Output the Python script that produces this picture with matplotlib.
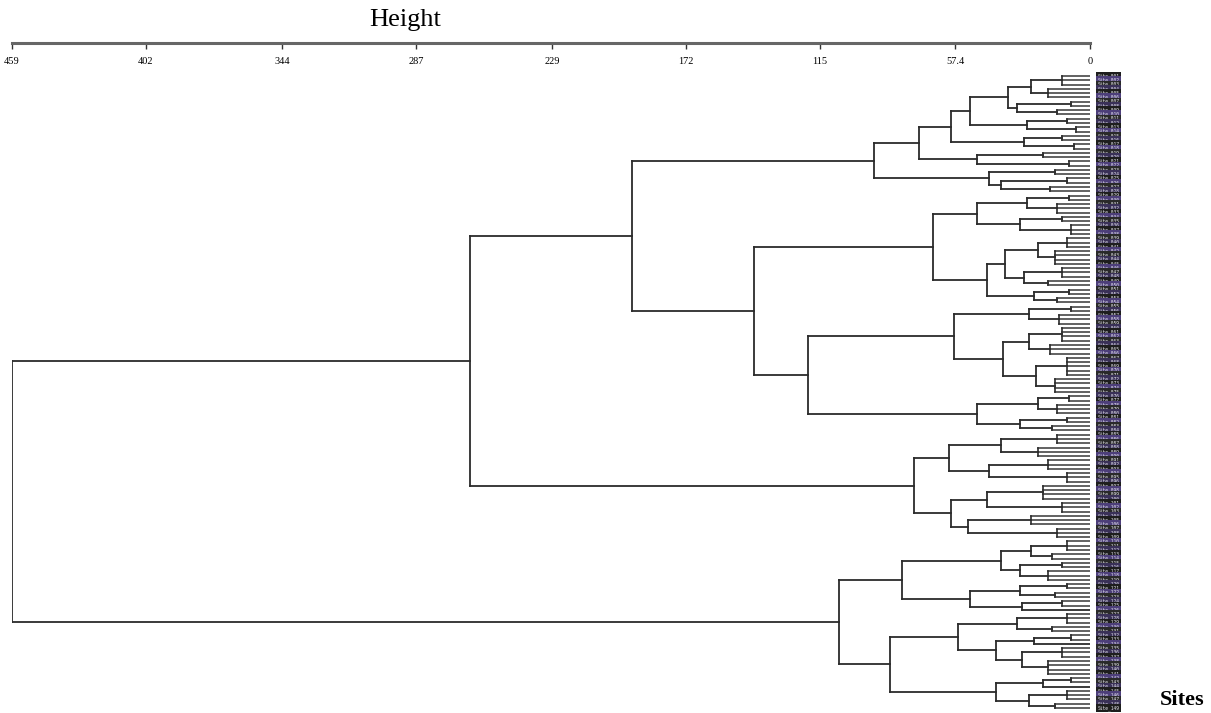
import matplotlib

matplotlib.use("Agg")

import matplotlib.pyplot as plt

# merge heights; (height, left, right) = merge,
# [n, h] = pack of n leaves joined at height h
cluster_a = (92,
             (73,
              (59,
               (51,
                (35, (25, [3, 12], [3, 18]), (31, [2, 8], [2, 14])),
                (27, [2, 10], [2, 6])),
               (28, [2, 12], [2, 7])),
              (48, [2, 20], [2, 9])),
             (43, [2, 15], (38, [2, 10], [2, 17])))

cluster_b_up = (67,
                (48, (27, [2, 9], [3, 14]), (30, [2, 12], [3, 8])),
                (44,
                 (36, (22, [3, 10], [4, 15]), (28, [3, 12], [2, 18])),
                 (24, [2, 9], [2, 14])))

cluster_b_low = (120,
                 (58,
                  (26, [2, 8], [3, 13]),
                  (37, (26, [4, 12], [3, 17]), (23, [5, 10], [4, 15]))),
                 (48, (22, [2, 9], [3, 14]), (30, [2, 10], [2, 16])))

cluster_c = (75,
             (60, (38, [3, 14], [3, 22]), (43, [3, 18], [3, 10])),
             (59, (44, [4, 20], [3, 12]), (52, [3, 25], [3, 14])))

cluster_d = (107,
             (80,
              (38, (25, [3, 10], [2, 16]), (30, [2, 12], [3, 18])),
              (51, (30, [2, 10], [2, 15]), (29, [2, 12], [1, 0]))),
             (85,
              (56, (31, [3, 10], [2, 16]),
               (40, (24, [2, 8], [1, 0]), (29, [3, 12], [4, 18]))),
              (40, (20, [2, 8], [1, 0]), (26, [3, 10], [2, 15]))))

tree = (459, (264, (195, cluster_a, (143, cluster_b_up, cluster_b_low)), cluster_c), cluster_d)

tick_values = [459, 402, 344, 287, 229, 172, 115, 57.4, 0]
tick_labels = ["459", "402", "344", "287", "229", "172", "115", "57.4", "0"]

W, H = 1211, 713
LINE = "#2b2b2b"


def count(node):
    if isinstance(node, list):
        return node[0]
    return count(node[1]) + count(node[2])


def draw(ax, node, start):
    if isinstance(node, list):
        n, h = node
        if n == 1:
            return start, 0, 1
        for i in range(n):
            ax.plot([0, h], [start + i, start + i], color="#555555", lw=1.3)
        ax.plot([h, h], [start, start + n - 1], color=LINE, lw=1.2)
        return start + (n - 1) / 2, h, n
    h, left, right = node
    yl, hl, nl = draw(ax, left, start)
    yr, hr, nr = draw(ax, right, start + nl)
    ax.plot([hl, h], [yl, yl], color=LINE, lw=1.3)
    ax.plot([hr, h], [yr, yr], color=LINE, lw=1.3)
    ax.plot([h, h], [yl, yr], color=LINE, lw=1.3)
    return (yl + yr) / 2, h, nl + nr


n_leaves = count(tree)
sites = [f"Site_{i + 1:03d}" for i in range(n_leaves)]

fig = plt.figure(figsize=(W / 100, H / 100), dpi=100)
x0, x1 = 12, 1090
ax = fig.add_axes([x0 / W, 0, (x1 - x0) / W, 1])
top_px, bot_px = 76, 708
step = (bot_px - top_px) / (n_leaves - 1)
ax.set_ylim((H - top_px) / step, -top_px / step)
ax.set_xlim(459, 0)
ax.axis("off")

draw(ax, tree, 0)

boxes = ["#1e1e1e", "#4d3f7a", "#2a2a2a", "#3a3158"]
for i, s in enumerate(sites):
    ax.text(-3.2, i, s, fontsize=3.3, color="#e8e8f0", va="center", ha="left",
            family="DejaVu Sans Mono", clip_on=False,
            bbox=dict(boxstyle="square,pad=0.25", fc=boxes[i % 4], ec="none"))

# height scale on top
ay = 43
axs = fig.add_axes([x0 / W, 1 - ay / H, (x1 - x0) / W, 0.0001])
axs.set_xlim(459, 0)
axs.set_yticks([])
for sp in ["top", "left", "right"]:
    axs.spines[sp].set_visible(False)
axs.spines["bottom"].set_color("#666666")
axs.spines["bottom"].set_linewidth(2.2)
axs.set_xticks(tick_values)
axs.set_xticklabels(tick_labels, fontsize=7.5, family="Liberation Serif")
axs.tick_params(axis="x", direction="out", length=4, width=1, color="#333333", pad=6)

fig.text(405 / W, 1 - 20 / H, "Height", fontsize=19, family="Liberation Serif",
         ha="center", va="center")
fig.text(1182 / W, 1 - 700 / H, "Sites", fontsize=16, fontweight="bold",
         family="Liberation Serif", ha="center", va="center")

fig.savefig("out.png", dpi=100)
plt.close(fig)
